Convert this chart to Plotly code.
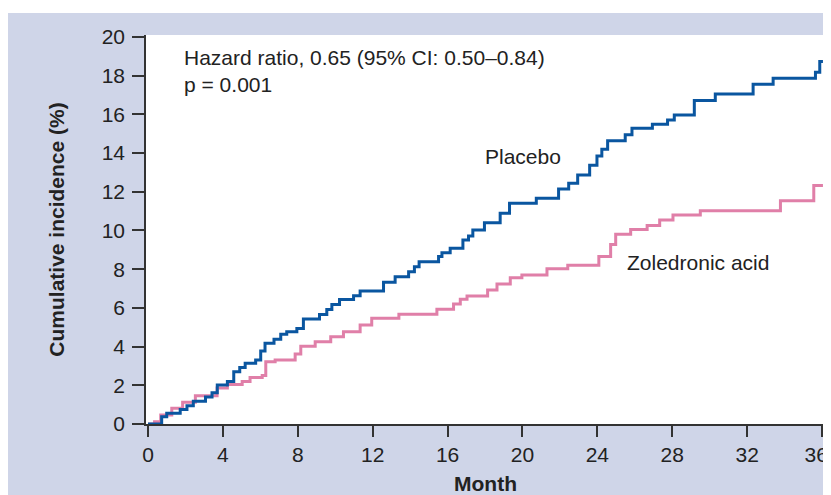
import plotly.graph_objects as go

# Placebo (cumulative incidence %, step function)
placebo_month = [0, 0.73, 1.0, 1.72, 2.08, 2.42, 3.07, 3.42, 3.70, 4.24, 4.58, 4.90, 5.19, 5.75,
                 6.02, 6.25, 6.73, 7.09, 7.41, 7.95, 8.30, 9.16, 9.55, 9.82, 10.23, 10.98, 11.33,
                 12.58, 13.20, 13.92, 14.23, 14.48, 15.52, 15.70, 16.14, 16.82, 17.12, 17.35, 17.97,
                 18.81, 19.31, 20.74, 21.93, 22.47, 22.95, 23.59, 23.98, 24.24, 24.55, 25.49, 25.85,
                 26.94, 27.75, 28.11, 29.18, 30.30, 32.32, 33.39, 35.65, 35.88, 36.05]
placebo_inc = [0, 0.38, 0.55, 0.75, 0.94, 1.17, 1.39, 1.62, 2.02, 2.19, 2.70, 2.92, 3.14, 3.31,
               3.77, 4.17, 4.38, 4.64, 4.77, 4.94, 5.43, 5.66, 5.91, 6.17, 6.43, 6.63, 6.87,
               7.32, 7.61, 7.87, 8.13, 8.39, 8.65, 8.85, 9.08, 9.51, 9.72, 10.03, 10.40,
               10.89, 11.40, 11.66, 12.14, 12.44, 12.87, 13.37, 13.85, 14.20, 14.63, 14.94, 15.28,
               15.49, 15.71, 15.97, 16.71, 17.05, 17.55, 17.86, 18.17, 18.73, 18.73]

# Zoledronic acid
zol_month = [0, 0.35, 0.68, 1.27, 1.85, 2.53, 3.69, 4.24, 5.03, 5.45, 6.10, 6.29, 6.79, 7.86,
             8.16, 8.93, 9.76, 10.44, 11.33, 11.95, 13.40, 15.43, 16.32, 16.68, 17.04, 18.14,
             18.64, 19.35, 19.97, 21.31, 22.42, 24.08, 24.71, 24.98, 25.78, 26.66, 27.33, 28.04,
             29.50, 33.78, 35.56, 36.05]
zol_inc = [0, 0.12, 0.47, 0.81, 1.12, 1.46, 1.86, 2.04, 2.20, 2.40, 2.50, 3.22, 3.31, 3.62,
           4.02, 4.25, 4.51, 4.77, 5.12, 5.46, 5.67, 5.93, 6.20, 6.44, 6.61, 6.93,
           7.24, 7.56, 7.70, 8.02, 8.20, 8.65, 9.27, 9.80, 10.05, 10.26, 10.54, 10.80,
           11.02, 11.54, 12.32, 12.32]

x_ticks = [0, 4, 8, 12, 16, 20, 24, 28, 32, 36]
x_ticktext = ["0", "4", "8", "12", "16", "20", "24", "28", "32", "36\u2007"]
y_ticks = [0, 2, 4, 6, 8, 10, 12, 14, 16, 18, 20]

BLUE = "#0a56a0"
PINK = "#e07fa8"
LAV = "#cfd5e8"
AX = "#333333"
TXT = "#222222"
FONT = "Liberation Sans, Arial, Helvetica, sans-serif"

fig = go.Figure()
fig.add_trace(go.Scatter(x=zol_month, y=zol_inc, mode="lines", line_shape="hv",
                         line=dict(color=PINK, width=3), name="Zoledronic acid",
                         showlegend=False))
fig.add_trace(go.Scatter(x=placebo_month, y=placebo_inc, mode="lines", line_shape="hv",
                         line=dict(color=BLUE, width=3), name="Placebo",
                         showlegend=False))

fig.update_layout(
    width=823, height=487,
    margin=dict(l=138, r=6, t=27, b=71, autoexpand=False),
    paper_bgcolor=LAV, plot_bgcolor="white",
    font=dict(family=FONT, color=TXT, size=21),
    showlegend=False,
    xaxis=dict(range=[-0.107, 36.16], tickvals=x_ticks, ticktext=x_ticktext,
               ticks="outside", ticklen=11, tickwidth=1.5, tickcolor=AX,
               showline=True, linecolor=AX, linewidth=1.5, showgrid=False, zeroline=False,
               tickfont=dict(size=21, color=TXT), automargin=False, ticklabelstandoff=0,
               ticklabeloverflow="allow",
               title=dict(text="<b>Month</b>", font=dict(size=21, color=TXT), standoff=13)),
    yaxis=dict(range=[0, 20.1], tickvals=y_ticks, ticktext=[str(v) for v in y_ticks],
               ticks="outside", ticklen=12, tickwidth=1.5, tickcolor=AX,
               showline=True, linecolor=AX, linewidth=1.5, showgrid=False, zeroline=False,
               tickfont=dict(size=21, color=TXT), ticklabelstandoff=3, automargin=False,
               title=dict(text="<b>Cumulative incidence (%)</b>", font=dict(size=21, color=TXT),
                          standoff=31)),
    shapes=[
        dict(type="rect", xref="paper", yref="paper", x0=-0.3, x1=1.1,
             y0=(389 + 27 - 5) / 389, y1=1.3,
             fillcolor="white", line=dict(width=0), layer="above"),
    ],
    annotations=[
        dict(x=1.8, y=18.94, xref="x", yref="y", text="Hazard ratio, 0.65 (95% CI: 0.50–0.84)",
             showarrow=False, xanchor="left", yanchor="middle", font=dict(size=21, color=TXT)),
        dict(x=1.8, y=17.53, xref="x", yref="y", text="p = 0.001",
             showarrow=False, xanchor="left", yanchor="middle", font=dict(size=21, color=TXT)),
        dict(x=17.9, y=13.8, xref="x", yref="y", text="Placebo",
             showarrow=False, xanchor="left", yanchor="middle", font=dict(size=21, color=TXT)),
        dict(x=25.48, y=8.32, xref="x", yref="y", text="Zoledronic acid",
             showarrow=False, xanchor="left", yanchor="middle", font=dict(size=21, color=TXT)),
    ],
)

fig.write_html("out.html")
